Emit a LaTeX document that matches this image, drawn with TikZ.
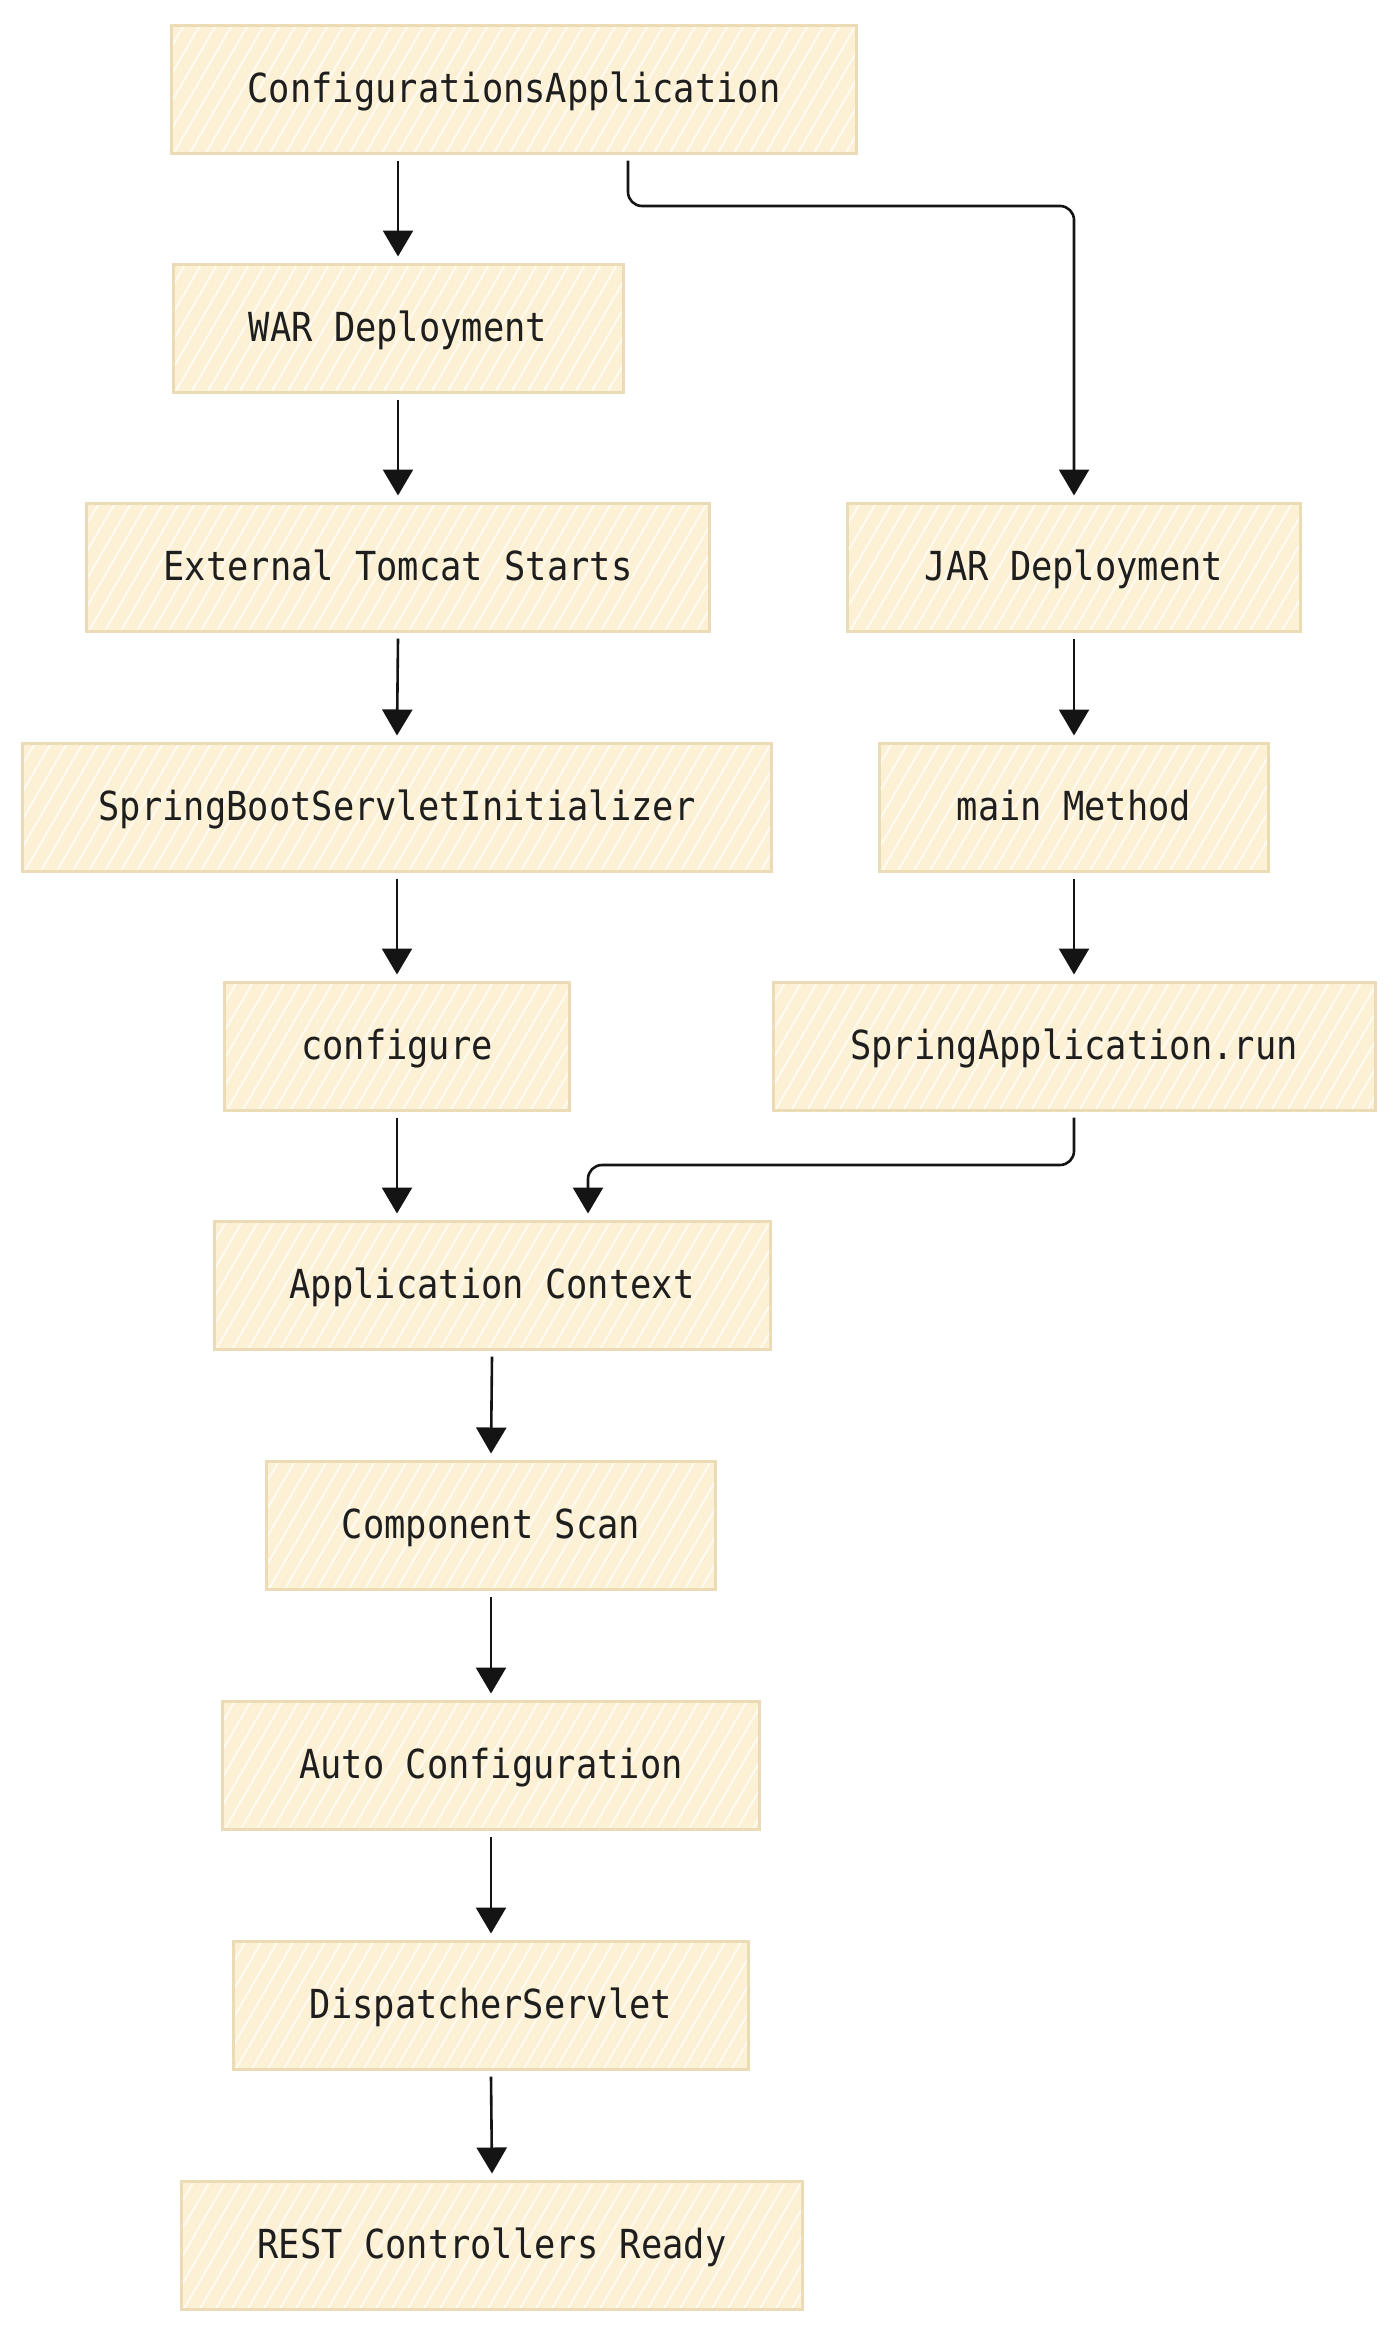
\documentclass[tikz,border=0pt]{standalone}
\usepackage{fontspec}
\newfontfamily\diagfont[FakeStretch=0.885]{DejaVu Sans Mono}
\usetikzlibrary{arrows.meta,calc}
\definecolor{boxfill}{RGB}{252,240,213}
\definecolor{boxline}{RGB}{236,220,182}
\definecolor{stripe}{RGB}{255,251,242}
\definecolor{ink}{RGB}{20,20,20}
\definecolor{textink}{RGB}{30,30,30}
\tikzset{
  flowbox/.style={draw=boxline, line width=3pt, fill=boxfill, minimum height=128pt,
    inner sep=0pt, text=textink, font=\diagfont\fontsize{40}{48}\selectfont,
    text height=30pt, text depth=4pt,
    path picture={
      \foreach \k in {-7,...,50}{
        \draw[stripe, line width=2pt] ($(path picture bounding box.south west)+(\k*16pt,-4pt)$) -- ++(84pt,145pt);
      }
    }},
  flowarrow/.style={draw=ink, line width=2.6pt, rounded corners=14pt,
    -{Triangle[width=30pt,length=26pt]}}
}
\begin{document}
\begin{tikzpicture}[x=1pt,y=-1pt]
\useasboundingbox[fill=white] (0,0) rectangle (1400,2335);
\node[flowbox, minimum width=685pt] (ca) at (514,89) {ConfigurationsApplication};
\node[flowbox, minimum width=450pt] (war) at (398,328) {WAR Deployment};
\node[flowbox, minimum width=623pt] (tom) at (398,567) {External Tomcat Starts};
\node[flowbox, minimum width=749pt] (sbsi) at (397,807) {SpringBootServletInitializer};
\node[flowbox, minimum width=345pt] (conf) at (397,1046) {configure};
\node[flowbox, minimum width=453pt] (jar) at (1074,567) {JAR Deployment};
\node[flowbox, minimum width=389pt] (main) at (1074,807) {main Method};
\node[flowbox, minimum width=602pt] (run) at (1074,1046) {SpringApplication.run};
\node[flowbox, minimum width=556pt] (ctx) at (492,1285) {Application Context};
\node[flowbox, minimum width=449pt] (scan) at (491,1525) {Component Scan};
\node[flowbox, minimum width=537pt] (auto) at (491,1765) {Auto Configuration};
\node[flowbox, minimum width=515pt] (disp) at (491,2005) {DispatcherServlet};
\node[flowbox, minimum width=621pt] (rest) at (492,2245) {REST Controllers Ready};

\draw[flowarrow] (ca.south -| war) ++(0,6) -- ($(war.north)+(0,-6)$);
\draw[flowarrow] ($(ca.south)+(114,6)$) |- (1074,206) -- ($(jar.north)+(0,-6)$);
\draw[flowarrow] ($(war.south)+(0,6)$) -- ($(tom.north)+(0,-6)$);
\draw[flowarrow] ($(tom.south)+(0,6)$) -- ($(sbsi.north)+(0,-6)$);
\draw[flowarrow] ($(sbsi.south)+(0,6)$) -- ($(conf.north)+(0,-6)$);
\draw[flowarrow] ($(conf.south)+(0,6)$) -- ($(conf.south |- ctx.north)+(0,-6)$);
\draw[flowarrow] ($(jar.south)+(0,6)$) -- ($(main.north)+(0,-6)$);
\draw[flowarrow] ($(main.south)+(0,6)$) -- ($(run.north)+(0,-6)$);
\draw[flowarrow] ($(run.south)+(0,6)$) |- (588,1165) -- ($(ctx.north)+(96,-6)$);
\draw[flowarrow] ($(ctx.south)+(0,6)$) -- ($(scan.north)+(0,-6)$);
\draw[flowarrow] ($(scan.south)+(0,6)$) -- ($(auto.north)+(0,-6)$);
\draw[flowarrow] ($(auto.south)+(0,6)$) -- ($(disp.north)+(0,-6)$);
\draw[flowarrow] ($(disp.south)+(0,6)$) -- ($(rest.north)+(0,-6)$);
\end{tikzpicture}
\end{document}
